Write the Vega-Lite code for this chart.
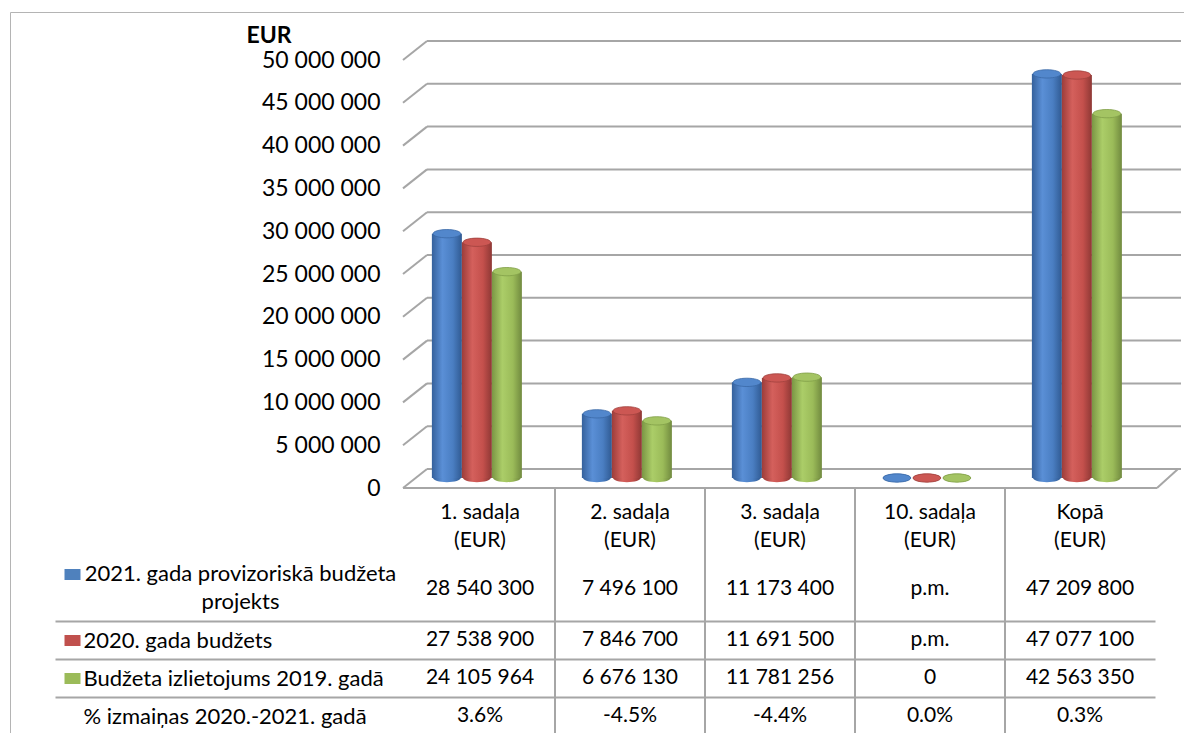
{
  "$schema": "https://vega.github.io/schema/vega-lite/v6.json",
  "width": 1174,
  "height": 721,
  "autosize": {"type": "none"},
  "padding": {"left": 10, "top": 12, "right": 0, "bottom": 0},
  "background": "white",
  "config": {
    "font": "Lato",
    "view": {"stroke": "#b4b4b4", "strokeWidth": 1, "strokeDash": [1174, 1895, 721, 0]},
    "locale": {"number": {"decimal": ".", "thousands": " ", "grouping": [3], "currency": ["", " €"], "minus": "-", "percent": "%"}},
    "axis": {"labelFont": "Lato", "titleFont": "Lato", "labelColor": "#000000", "titleColor": "#000000", "grid": false, "domain": false, "ticks": false},
    "text": {"font": "Lato", "fontSize": 21, "color": "#000000", "align": "center", "baseline": "middle"}
  },
  "datasets": {
    "budget": [
      {"section": "1. sadaļa (EUR)", "series": "2021. gada provizoriskā budžeta projekts", "value": 28540300},
      {"section": "1. sadaļa (EUR)", "series": "2020. gada budžets", "value": 27538900},
      {"section": "1. sadaļa (EUR)", "series": "Budžeta izlietojums 2019. gadā", "value": 24105964},
      {"section": "2. sadaļa (EUR)", "series": "2021. gada provizoriskā budžeta projekts", "value": 7496100},
      {"section": "2. sadaļa (EUR)", "series": "2020. gada budžets", "value": 7846700},
      {"section": "2. sadaļa (EUR)", "series": "Budžeta izlietojums 2019. gadā", "value": 6676130},
      {"section": "3. sadaļa (EUR)", "series": "2021. gada provizoriskā budžeta projekts", "value": 11173400},
      {"section": "3. sadaļa (EUR)", "series": "2020. gada budžets", "value": 11691500},
      {"section": "3. sadaļa (EUR)", "series": "Budžeta izlietojums 2019. gadā", "value": 11781256},
      {"section": "10. sadaļa (EUR)", "series": "2021. gada provizoriskā budžeta projekts", "value": 0, "note": "p.m."},
      {"section": "10. sadaļa (EUR)", "series": "2020. gada budžets", "value": 0, "note": "p.m."},
      {"section": "10. sadaļa (EUR)", "series": "Budžeta izlietojums 2019. gadā", "value": 0},
      {"section": "Kopā (EUR)", "series": "2021. gada provizoriskā budžeta projekts", "value": 47209800},
      {"section": "Kopā (EUR)", "series": "2020. gada budžets", "value": 47077100},
      {"section": "Kopā (EUR)", "series": "Budžeta izlietojums 2019. gadā", "value": 42563350}
    ],
    "change": [
      {"section": "1. sadaļa (EUR)", "series": "% izmaiņas 2020.-2021. gadā", "change": 0.036},
      {"section": "2. sadaļa (EUR)", "series": "% izmaiņas 2020.-2021. gadā", "change": -0.045},
      {"section": "3. sadaļa (EUR)", "series": "% izmaiņas 2020.-2021. gadā", "change": -0.044},
      {"section": "10. sadaļa (EUR)", "series": "% izmaiņas 2020.-2021. gadā", "change": 0},
      {"section": "Kopā (EUR)", "series": "% izmaiņas 2020.-2021. gadā", "change": 0.003}
    ],
    "gridTicks": [
      {"v": 0}, {"v": 5000000}, {"v": 10000000}, {"v": 15000000}, {"v": 20000000}, {"v": 25000000},
      {"v": 30000000}, {"v": 35000000}, {"v": 40000000}, {"v": 45000000}, {"v": 50000000}
    ],
    "floor": [{"v": 0}]
  },
  "layer": [
    {
      "data": {"name": "gridTicks"},
      "mark": {"type": "rule", "stroke": "#a6a6a6", "strokeWidth": 2, "xOffset": -2, "x2Offset": 22, "y2Offset": -19},
      "encoding": {
        "x": {"datum": "1. sadaļa (EUR)", "bandPosition": 0},
        "x2": {"datum": "1. sadaļa (EUR)", "bandPosition": 0},
        "y": {"field": "v", "type": "quantitative", "scale": {"domain": [0, 50000000], "range": [476, 48], "nice": false, "zero": false},
          "axis": {"orient": "left", "offset": -395, "values": [0, 5000000, 10000000, 15000000, 20000000, 25000000, 30000000, 35000000, 40000000, 45000000, 50000000], "format": ",.0f",
            "domain": false, "ticks": false, "tickSize": 0, "grid": false, "labelPadding": 25, "labelFontSize": 23, "labelFlush": false, "labelOverlap": false, "labelBound": false, "labelLimit": 1000,
            "title": "EUR", "titleAngle": 0, "titleFontSize": 23, "titleFontWeight": "bold", "titleAlign": "left", "titleBaseline": "middle", "titleX": -159, "titleY": 23}},
        "y2": {"field": "v"}
      }
    },
    {
      "data": {"name": "gridTicks"},
      "mark": {"type": "rule", "stroke": "#a6a6a6", "strokeWidth": 2, "xOffset": 22, "x2Offset": 26, "yOffset": -19},
      "encoding": {
        "x": {"datum": "1. sadaļa (EUR)", "bandPosition": 0},
        "x2": {"datum": "Kopā (EUR)", "bandPosition": 1},
        "y": {"field": "v", "type": "quantitative", "scale": {"domain": [0, 50000000], "range": [476, 48], "nice": false, "zero": false}, "axis": null}
      }
    },
    {
      "data": {"name": "floor"},
      "mark": {"type": "rule", "stroke": "#a6a6a6", "strokeWidth": 2, "xOffset": 2, "x2Offset": 23, "y2Offset": -19},
      "encoding": {
        "x": {"datum": "Kopā (EUR)", "bandPosition": 1},
        "x2": {"datum": "Kopā (EUR)", "bandPosition": 1},
        "y": {"field": "v", "type": "quantitative", "scale": {"domain": [0, 50000000], "range": [476, 48], "nice": false, "zero": false}, "axis": null},
        "y2": {"field": "v"}
      }
    },
    {
      "data": {"name": "floor"},
      "mark": {"type": "rule", "stroke": "#a6a6a6", "strokeWidth": 2, "xOffset": -2, "x2Offset": 2},
      "encoding": {
        "x": {"datum": "1. sadaļa (EUR)", "bandPosition": 0},
        "x2": {"datum": "Kopā (EUR)", "bandPosition": 1},
        "y": {"field": "v", "type": "quantitative", "scale": {"domain": [0, 50000000], "range": [476, 48], "nice": false, "zero": false}, "axis": null}
      }
    },
    {
      "data": {"name": "budget"},
      "transform": [{"filter": "datum.series === '2021. gada provizoriskā budžeta projekts' && datum.section !== '1. sadaļa (EUR)'"}],
      "mark": {"type": "rule", "stroke": "#a6a6a6", "strokeWidth": 2},
      "encoding": {
        "x": {"field": "section", "type": "nominal", "bandPosition": 0,
          "scale": {"domain": ["1. sadaļa (EUR)", "2. sadaļa (EUR)", "3. sadaļa (EUR)", "10. sadaļa (EUR)", "Kopā (EUR)"], "range": [395, 1145], "paddingInner": 0, "paddingOuter": 0},
          "axis": {"orient": "bottom", "offset": -245, "title": null, "domain": false, "ticks": false, "tickSize": 0, "grid": false,
            "labelAngle": 0, "labelAlign": "center", "labelBaseline": "middle", "labelPadding": 24,
            "labelExpr": "[replace(datum.label, ' (EUR)', ''), '(EUR)']", "labelLineHeight": 28, "labelFontSize": 21,
            "labelOverlap": false, "labelBound": false, "labelFlush": false, "labelLimit": 1000}},
        "y": {"datum": 0, "type": "quantitative", "scale": {"domain": [0, 50000000], "range": [476, 48], "nice": false, "zero": false}, "axis": null},
        "y2": {"value": "height"}
      }
    },
    {
      "data": {"name": "budget"},
      "transform": [{"filter": "datum.series === '2021. gada provizoriskā budžeta projekts'"}],
      "mark": {"type": "point", "shape": "M-1,0A1,0.3,0,1,1,1,0A1,0.3,0,1,1,-1,0Z", "size": 767, "filled": true, "opacity": 1, "strokeWidth": 0, "yOffset": -10,
        "fill": {"gradient": "linear", "stops": [{"offset": 0, "color": "#35619c"}, {"offset": 0.35, "color": "#5a8fd6"}, {"offset": 0.7, "color": "#4a7ec2"}, {"offset": 1, "color": "#305a92"}]}},
      "encoding": {
        "x": {"field": "section", "type": "nominal"},
        "xOffset": {"field": "series", "type": "nominal", "scale": {"domain": ["2021. gada provizoriskā budžeta projekts", "2020. gada budžets", "Budžeta izlietojums 2019. gadā"], "paddingInner": 0, "paddingOuter": 1.2075, "align": 0.448}},
        "y": {"datum": 0, "type": "quantitative", "scale": {"domain": [0, 50000000], "range": [476, 48], "nice": false, "zero": false}, "axis": null}
      }
    },
    {
      "data": {"name": "budget"},
      "transform": [{"filter": "datum.series === '2021. gada provizoriskā budžeta projekts'"}],
      "mark": {"type": "bar", "yOffset": -10, "y2Offset": -10, "strokeWidth": 0,
        "fill": {"gradient": "linear", "stops": [{"offset": 0, "color": "#35619c"}, {"offset": 0.35, "color": "#5a8fd6"}, {"offset": 0.7, "color": "#4a7ec2"}, {"offset": 1, "color": "#305a92"}]}},
      "encoding": {
        "x": {"field": "section", "type": "nominal"},
        "xOffset": {"field": "series", "type": "nominal"},
        "y": {"field": "value", "type": "quantitative", "scale": {"domain": [0, 50000000], "range": [476, 48], "nice": false, "zero": false}, "axis": null},
        "y2": {"datum": 0}
      }
    },
    {
      "data": {"name": "budget"},
      "transform": [{"filter": "datum.series === '2020. gada budžets'"}],
      "mark": {"type": "point", "shape": "M-1,0A1,0.3,0,1,1,1,0A1,0.3,0,1,1,-1,0Z", "size": 767, "filled": true, "opacity": 1, "strokeWidth": 0, "yOffset": -10,
        "fill": {"gradient": "linear", "stops": [{"offset": 0, "color": "#9c3d3a"}, {"offset": 0.35, "color": "#d4605c"}, {"offset": 0.7, "color": "#c4504c"}, {"offset": 1, "color": "#8e3835"}]}},
      "encoding": {
        "x": {"field": "section", "type": "nominal"},
        "xOffset": {"field": "series", "type": "nominal"},
        "y": {"datum": 0, "type": "quantitative", "scale": {"domain": [0, 50000000], "range": [476, 48], "nice": false, "zero": false}, "axis": null}
      }
    },
    {
      "data": {"name": "budget"},
      "transform": [{"filter": "datum.series === '2020. gada budžets'"}],
      "mark": {"type": "bar", "yOffset": -10, "y2Offset": -10, "strokeWidth": 0,
        "fill": {"gradient": "linear", "stops": [{"offset": 0, "color": "#9c3d3a"}, {"offset": 0.35, "color": "#d4605c"}, {"offset": 0.7, "color": "#c4504c"}, {"offset": 1, "color": "#8e3835"}]}},
      "encoding": {
        "x": {"field": "section", "type": "nominal"},
        "xOffset": {"field": "series", "type": "nominal"},
        "y": {"field": "value", "type": "quantitative", "scale": {"domain": [0, 50000000], "range": [476, 48], "nice": false, "zero": false}, "axis": null},
        "y2": {"datum": 0}
      }
    },
    {
      "data": {"name": "budget"},
      "transform": [{"filter": "datum.series === 'Budžeta izlietojums 2019. gadā'"}],
      "mark": {"type": "point", "shape": "M-1,0A1,0.3,0,1,1,1,0A1,0.3,0,1,1,-1,0Z", "size": 767, "filled": true, "opacity": 1, "strokeWidth": 0, "yOffset": -10,
        "fill": {"gradient": "linear", "stops": [{"offset": 0, "color": "#7a9544"}, {"offset": 0.35, "color": "#abcd68"}, {"offset": 0.7, "color": "#9bbb59"}, {"offset": 1, "color": "#718a3f"}]}},
      "encoding": {
        "x": {"field": "section", "type": "nominal"},
        "xOffset": {"field": "series", "type": "nominal"},
        "y": {"datum": 0, "type": "quantitative", "scale": {"domain": [0, 50000000], "range": [476, 48], "nice": false, "zero": false}, "axis": null}
      }
    },
    {
      "data": {"name": "budget"},
      "transform": [{"filter": "datum.series === 'Budžeta izlietojums 2019. gadā'"}],
      "mark": {"type": "bar", "yOffset": -10, "y2Offset": -10, "strokeWidth": 0,
        "fill": {"gradient": "linear", "stops": [{"offset": 0, "color": "#7a9544"}, {"offset": 0.35, "color": "#abcd68"}, {"offset": 0.7, "color": "#9bbb59"}, {"offset": 1, "color": "#718a3f"}]}},
      "encoding": {
        "x": {"field": "section", "type": "nominal"},
        "xOffset": {"field": "series", "type": "nominal"},
        "y": {"field": "value", "type": "quantitative", "scale": {"domain": [0, 50000000], "range": [476, 48], "nice": false, "zero": false}, "axis": null},
        "y2": {"datum": 0}
      }
    },
    {
      "data": {"name": "budget"},
      "mark": {"type": "point", "shape": "M-1,0A1,0.3,0,1,1,1,0A1,0.3,0,1,1,-1,0Z", "size": 767, "filled": true, "opacity": 1, "strokeWidth": 0.8, "yOffset": -10},
      "encoding": {
        "x": {"field": "section", "type": "nominal"},
        "xOffset": {"field": "series", "type": "nominal"},
        "y": {"field": "value", "type": "quantitative", "scale": {"domain": [0, 50000000], "range": [476, 48], "nice": false, "zero": false}, "axis": null},
        "fill": {"field": "series", "type": "nominal", "legend": null, "scale": {"domain": ["2021. gada provizoriskā budžeta projekts", "2020. gada budžets", "Budžeta izlietojums 2019. gadā"], "range": ["#5287cc", "#cc5753", "#a4c463"]}},
        "stroke": {"field": "series", "type": "nominal", "legend": null, "scale": {"domain": ["2021. gada provizoriskā budžeta projekts", "2020. gada budžets", "Budžeta izlietojums 2019. gadā"], "range": ["#3a68a6", "#a0413e", "#809e48"]}}
      }
    },
    {
      "data": {"name": "budget"},
      "transform": [{"filter": "datum.series === '2021. gada provizoriskā budžeta projekts'"}],
      "mark": {"type": "text"},
      "encoding": {
        "x": {"field": "section", "type": "nominal"},
        "y": {"field": "series", "type": "nominal", "scale": {"domain": ["2021. gada provizoriskā budžeta projekts"], "range": [544, 609], "paddingInner": 0, "paddingOuter": 0},
          "axis": {"orient": "left", "offset": -70, "title": null, "domain": false, "grid": false, "ticks": true, "tickSize": 16, "tickWidth": 11, "tickColor": "#4F81BD", "tickCap": "butt",
            "tickOffset": -15, "labelOffset": 0, "labelPadding": -176, "labelAlign": "center", "labelBaseline": "middle",
            "labelExpr": "[substring(datum.label, 0, lastindexof(datum.label, ' ')), substring(datum.label, lastindexof(datum.label, ' ') + 1)]",
            "labelLineHeight": 28, "labelFontSize": 22, "labelLimit": 1000, "labelBound": false, "labelOverlap": false, "labelFlush": false}},
        "text": {"condition": {"test": "isValid(datum.note)", "field": "note"}, "field": "value", "type": "quantitative", "format": ",.0f"}
      }
    },
    {
      "data": {"name": "budget"},
      "transform": [{"filter": "datum.series !== '2021. gada provizoriskā budžeta projekts'"}],
      "mark": {"type": "text"},
      "encoding": {
        "x": {"field": "section", "type": "nominal"},
        "y": {"field": "series", "type": "nominal", "scale": {"domain": ["2020. gada budžets", "Budžeta izlietojums 2019. gadā", "% izmaiņas 2020.-2021. gadā"], "range": [609, 723], "paddingInner": 0, "paddingOuter": 0},
          "axis": {"orient": "left", "offset": -70, "title": null, "domain": false, "grid": false, "ticks": true, "tickSize": 16, "tickWidth": 11, "tickCap": "butt",
            "tickColor": {"condition": {"test": "datum.value === '2020. gada budžets'", "value": "#C0504D"}, "value": "#9BBB59"},
            "tickOpacity": {"condition": {"test": "datum.value === '% izmaiņas 2020.-2021. gadā'", "value": 0}, "value": 1},
            "labelPadding": -19, "labelAlign": "left", "labelBaseline": "middle", "labelFontSize": 22, "labelLimit": 1000, "labelBound": false, "labelOverlap": false, "labelFlush": false}},
        "text": {"condition": {"test": "isValid(datum.note)", "field": "note"}, "field": "value", "type": "quantitative", "format": ",.0f"}
      }
    },
    {
      "data": {"name": "change"},
      "mark": {"type": "text"},
      "encoding": {
        "x": {"field": "section", "type": "nominal"},
        "y": {"field": "series", "type": "nominal", "scale": {"domain": ["2020. gada budžets", "Budžeta izlietojums 2019. gadā", "% izmaiņas 2020.-2021. gadā"], "range": [609, 723], "paddingInner": 0, "paddingOuter": 0},
          "axis": {"orient": "left", "offset": -1145, "title": null, "domain": false, "grid": false, "labels": false, "ticks": true, "tickBand": "extent", "tickSize": 1100, "tickWidth": 2, "tickColor": "#a6a6a6"}},
        "text": {"field": "change", "type": "quantitative", "format": ".1%"}
      }
    }
  ],
  "resolve": {"scale": {"y": "independent"}, "axis": {"y": "independent"}}
}
